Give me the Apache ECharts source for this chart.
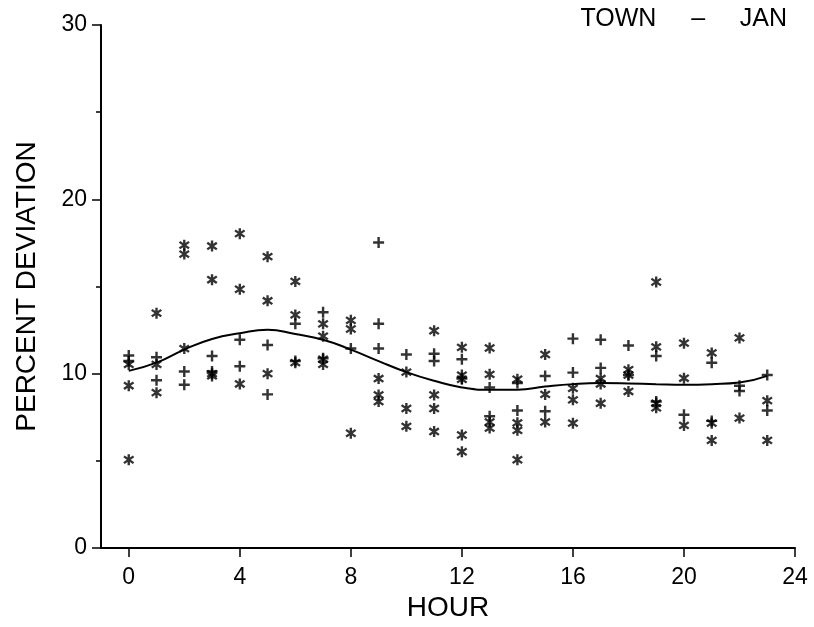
<!DOCTYPE html>
<html>
<head>
<meta charset="utf-8">
<script src="https://cdn.jsdelivr.net/npm/echarts@6/dist/echarts.min.js"></script>
<style>
html,body{margin:0;padding:0;background:#fff;}
#chart{width:814px;height:627px;}
</style>
</head>
<body>
<div id="chart"></div>
<script>
// ---- data ----
const hours = [0,1,2,3,4,5,6,7,8,9,10,11,12,13,14,15,16,17,18,19,20,21,22,23];
const starValues = [
  [10.53, 9.31, 5.06],
  [13.47, 10.53, 8.91],
  [17.37, 16.86, 11.44],
  [17.32, 15.39, 10.0, 9.87],
  [18.03, 14.84, 9.41],
  [16.71, 14.18, 10.0],
  [15.29, 13.37, 10.63],
  [12.86, 12.15, 10.83, 10.53],
  [13.06, 12.56, 6.58],
  [9.72, 8.78, 8.4],
  [10.09, 8.0, 6.98],
  [12.46, 8.78, 8.0, 6.68],
  [11.51, 9.92, 9.68, 6.48, 5.52],
  [11.47, 9.96, 7.23, 6.88],
  [9.68, 7.18, 6.75, 5.06],
  [11.1, 8.81, 7.23],
  [9.16, 8.5, 7.16],
  [9.72, 9.41, 8.3],
  [10.23, 9.92, 8.98],
  [15.26, 11.54, 8.3, 8.04],
  [11.75, 9.74, 7.03],
  [11.19, 7.16, 6.17],
  [12.05, 7.45],
  [8.45, 6.17]
];
const plusValues = [
  [11.04, 10.73],
  [10.94, 9.62],
  [10.12, 9.36],
  [11.01, 10.12],
  [11.95, 10.43],
  [11.64, 8.81],
  [12.86, 10.73],
  [13.52, 10.88],
  [11.44],
  [17.52, 12.86, 11.44],
  [11.1],
  [11.14, 10.73],
  [10.83, 9.72],
  [9.21, 7.56],
  [9.46, 7.89],
  [9.87, 7.84],
  [12.01, 10.06],
  [11.95, 10.33],
  [11.62, 9.92],
  [11.01, 8.4],
  [7.64],
  [10.63, 7.29],
  [9.31, 9.01],
  [9.92, 7.89]
];
const curveValues = [10.16, 10.63, 11.38, 11.99, 12.32, 12.52, 12.27, 11.95, 11.38, 10.72, 10.09, 9.59, 9.21, 9.08, 9.08, 9.26, 9.4, 9.46, 9.44, 9.4, 9.37, 9.4, 9.49, 9.87];
const xTicks = [0,4,8,12,16,20,24];
const titleText = 'TOWN     –     JAN';
const xName = 'HOUR';
const yName = 'PERCENT DEVIATION';

// ---- build series data ----
const starData = [];
starValues.forEach((vals, i) => vals.forEach(v => starData.push([hours[i], v])));
const plusData = [];
plusValues.forEach((vals, i) => vals.forEach(v => plusData.push([hours[i], v])));
const curveData = hours.map((h, i) => [h, curveValues[i]]);

const starPath = 'path://M4 0h2v10h-2zM1.6 1.2L9.6 7.2L8.4 8.8L0.4 2.8zM0.4 7.2L8.4 1.2L9.6 2.8L1.6 8.8z';
const plusPath = 'path://M3.9 0h2.2v10h-2.2zM0 3.9h10v2.2h-10z';

const font = "'Liberation Sans','Arial',sans-serif";

const chart = echarts.init(document.getElementById('chart'), null, {renderer: 'canvas'});
chart.setOption({
  backgroundColor: '#fff',
  animation: false,
  title: {
    text: titleText,
    right: 22,
    top: 2,
    textStyle: {fontFamily: font, fontSize: 25, fontWeight: 'normal', color: '#000'}
  },
  grid: {left: 101, right: 19, top: 25, bottom: 73, containLabel: false},
  xAxis: {
    type: 'value',
    min: -1,
    max: 24,
    name: xName,
    nameLocation: 'middle',
    nameGap: 46,
    nameTextStyle: {fontFamily: font, fontSize: 28, color: '#000'},
    axisLine: {show: true, onZero: false, lineStyle: {color: '#000', width: 2}},
    axisTick: {show: true, inside: false, length: 9, customValues: xTicks, lineStyle: {color: '#000', width: 1.5}},
    axisLabel: {customValues: xTicks, fontFamily: font, fontSize: 23, color: '#000', margin: 18},
    splitLine: {show: false}
  },
  yAxis: {
    type: 'value',
    min: 0,
    max: 30,
    interval: 10,
    name: yName,
    nameLocation: 'middle',
    nameGap: 60,
    nameRotate: 90,
    nameTextStyle: {fontFamily: font, fontSize: 28, color: '#000'},
    axisLine: {show: true, onZero: false, lineStyle: {color: '#000', width: 2}},
    axisTick: {show: true, inside: false, length: 9, lineStyle: {color: '#000', width: 1.5}},
    minorTick: {show: true, splitNumber: 2, length: 5, lineStyle: {color: '#000', width: 1.5}},
    axisLabel: {fontFamily: font, fontSize: 23, color: '#000', margin: 14},
    splitLine: {show: false}
  },
  series: [
    {
      name: 'curve',
      type: 'line',
      data: curveData,
      smooth: true,
      showSymbol: false,
      symbol: 'none',
      lineStyle: {color: '#000', width: 2},
      z: 3
    },
    {
      name: 'star',
      type: 'scatter',
      data: starData,
      symbol: starPath,
      symbolSize: 11,
      itemStyle: {color: '#000'},
      z: 4
    },
    {
      name: 'plus',
      type: 'scatter',
      data: plusData,
      symbol: plusPath,
      symbolSize: 11,
      itemStyle: {color: '#000'},
      z: 4
    }
  ]
});
</script>
</body>
</html>
